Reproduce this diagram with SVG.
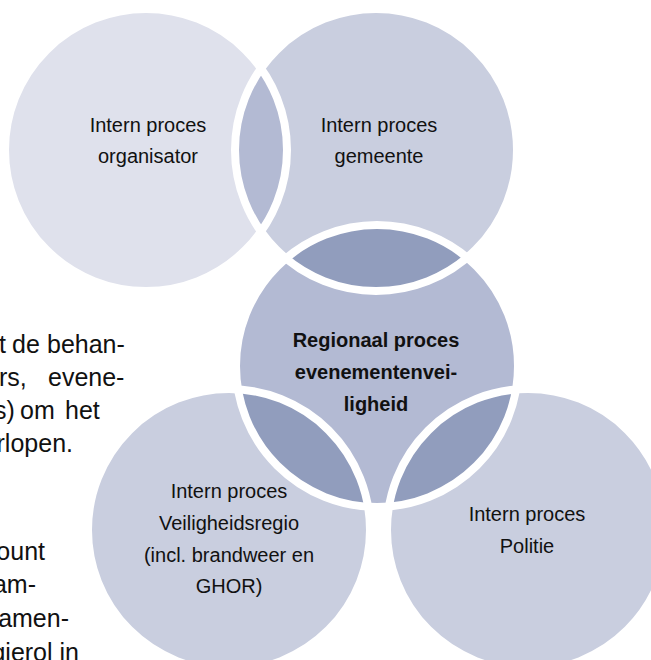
<svg xmlns="http://www.w3.org/2000/svg" width="651" height="660" viewBox="0 0 651 660">
<style>
.bg{font-family:"Liberation Sans",Arial,sans-serif;font-size:25px;fill:#111}
.lbl{font-family:"Liberation Sans",Arial,sans-serif;font-size:20px;fill:#111;text-anchor:middle}
.b{font-weight:bold}
.ol{fill:none;stroke:#fff;stroke-width:8}
.lens{fill:#919dbd}
</style>
<defs>
<clipPath id="clipTL"><circle cx="146" cy="150" r="141"/></clipPath>
<clipPath id="clipTR"><circle cx="376" cy="150" r="141"/></clipPath>
<clipPath id="clipMid"><circle cx="377" cy="366" r="141"/></clipPath>
</defs>
<rect width="651" height="660" fill="#fff"/>
<g id="background-text" class="bg">
<text y="353"><tspan x="-1">t</tspan><tspan x="12">de</tspan><tspan x="47">behan-</tspan></text>
<text y="386"><tspan x="-1">rs,</tspan><tspan x="48">evene-</tspan></text>
<text y="419"><tspan x="-6">s)</tspan><tspan x="20">om</tspan><tspan x="65">het</tspan></text>
<text y="452" text-anchor="end" x="73">rlopen.</text>
<text y="560" text-anchor="end" x="45">ount</text>
<text y="593" text-anchor="end" x="36">am-</text>
<text y="627" text-anchor="end" x="69">amen-</text>
<text y="661" text-anchor="end" x="79">gierol in</text>
</g>
<g id="nodes">
<g id="node-organisator">
<circle cx="146" cy="150" r="141" fill="#dfe1ec"/>
<text class="lbl"><tspan x="148" y="132">Intern proces</tspan><tspan x="148" y="163">organisator</tspan></text>
</g>
<g id="node-gemeente">
<circle cx="376" cy="150" r="141" fill="#c9cedf"/>
<text class="lbl"><tspan x="379" y="132">Intern proces</tspan><tspan x="379" y="163">gemeente</tspan></text>
</g>
<g id="node-regionaal">
<circle cx="377" cy="366" r="141" fill="#b3bad3"/>
<text class="lbl b"><tspan x="376" y="347">Regionaal proces</tspan><tspan x="376" y="379">evenementenvei-</tspan><tspan x="376" y="411">ligheid</tspan></text>
</g>
<g id="node-veiligheidsregio">
<circle cx="229" cy="530" r="141" fill="#c9cedf"/>
<text class="lbl"><tspan x="229" y="498">Intern proces</tspan><tspan x="229" y="530">Veiligheidsregio</tspan><tspan x="229" y="562">(incl. brandweer en</tspan><tspan x="229" y="593">GHOR)</tspan></text>
</g>
<g id="node-politie">
<circle cx="528" cy="530" r="141" fill="#c9cedf"/>
<text class="lbl"><tspan x="527" y="521">Intern proces</tspan><tspan x="527" y="553">Politie</tspan></text>
</g>
</g>
<g id="overlaps">
<circle cx="376" cy="150" r="141" clip-path="url(#clipTL)" fill="#b3bad3"/>
<circle class="lens" cx="377" cy="366" r="141" clip-path="url(#clipTR)"/>
<circle class="lens" cx="229" cy="530" r="141" clip-path="url(#clipMid)"/>
<circle class="lens" cx="528" cy="530" r="141" clip-path="url(#clipMid)"/>
</g>
<g id="outlines">
<circle class="ol" cx="146" cy="150" r="141"/>
<circle class="ol" cx="376" cy="150" r="141"/>
<circle class="ol" cx="377" cy="366" r="141"/>
<circle class="ol" cx="229" cy="530" r="141"/>
<circle class="ol" cx="528" cy="530" r="141"/>
</g>
</svg>
